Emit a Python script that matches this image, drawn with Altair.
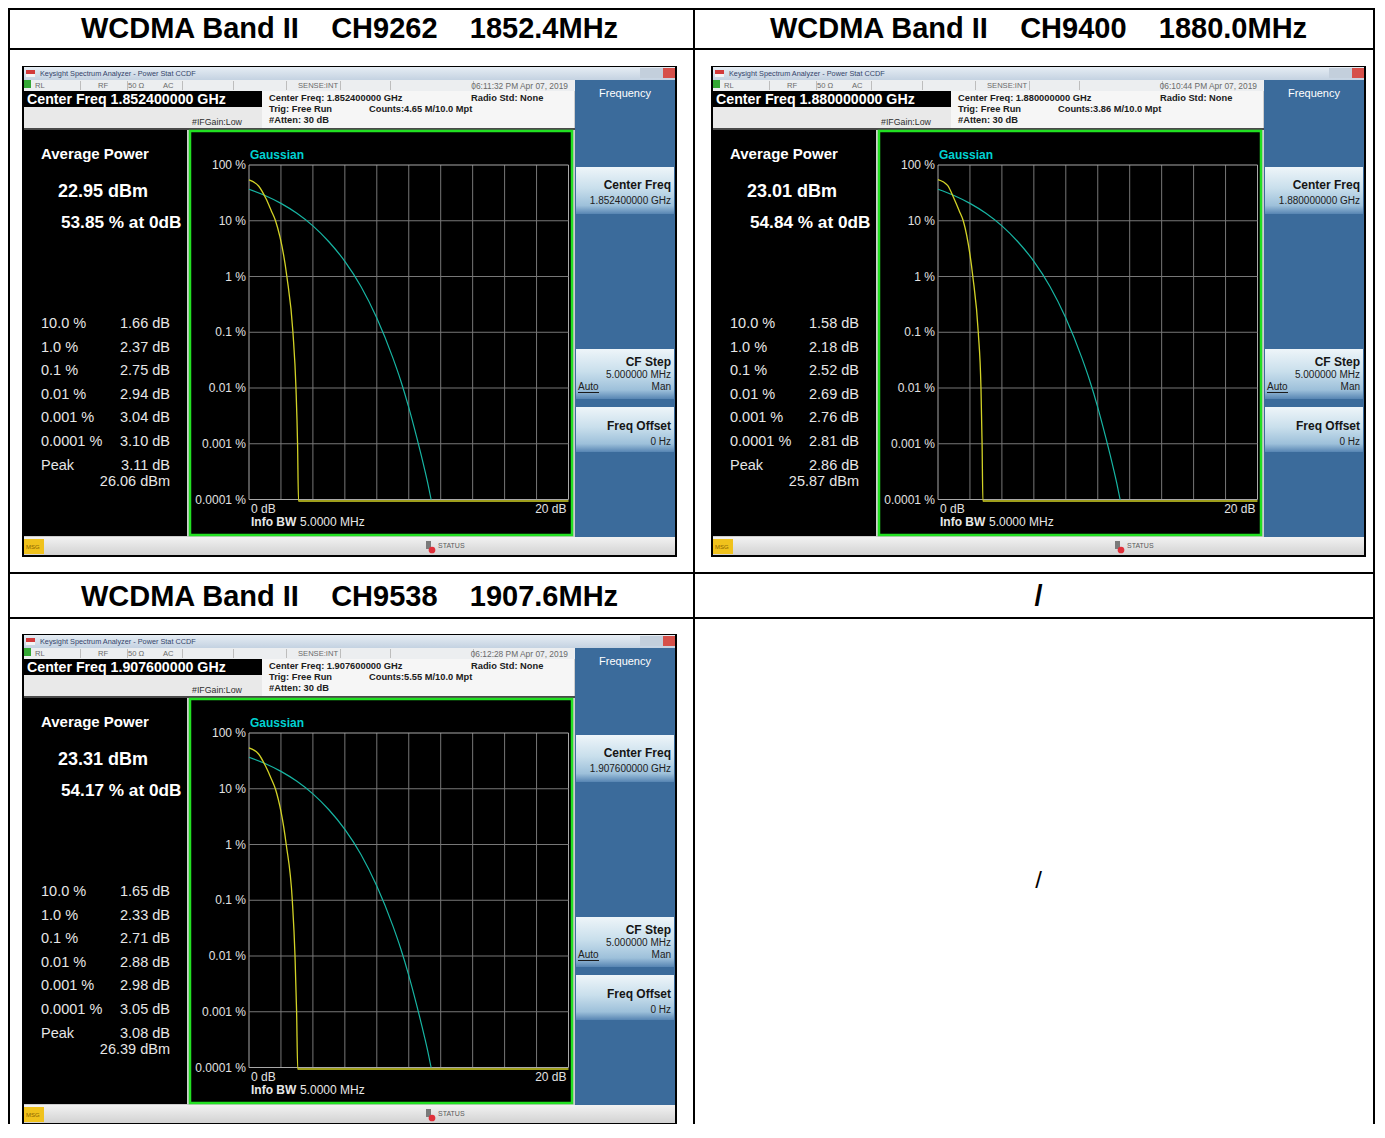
import altair as alt
import pandas as pd

# ---------------------------------------------------------------- data
NB = "\u00a0" * 4
cell_titles = [
    "WCDMA Band II" + NB + "CH9262" + NB + "1852.4MHz",
    "WCDMA Band II" + NB + "CH9400" + NB + "1880.0MHz",
    "WCDMA Band II" + NB + "CH9538" + NB + "1907.6MHz",
    "/",
]
empty_cell_text = "/"

window_title = "Keysight Spectrum Analyzer - Power Stat CCDF"
center_freq_ghz = ["1.852400000", "1.880000000", "1.907600000"]
time_stamps = ["06:11:32 PM Apr 07, 2019", "06:10:44 PM Apr 07, 2019", "06:12:28 PM Apr 07, 2019"]
counts_m = ["4.65", "3.86", "5.55"]
avg_power_dbm = ["22.95", "23.01", "23.31"]
pct_at_0db = [53.85, 54.84, 54.17]

prob_labels = ["10.0 %", "1.0 %", "0.1 %", "0.01 %", "0.001 %", "0.0001 %"]
prob_levels_pct = [10.0, 1.0, 0.1, 0.01, 0.001, 0.0001]
stat_db = [
    [1.66, 2.37, 2.75, 2.94, 3.04, 3.10],
    [1.58, 2.18, 2.52, 2.69, 2.76, 2.81],
    [1.65, 2.33, 2.71, 2.88, 2.98, 3.05],
]
peak_db = [3.11, 2.86, 3.08]
peak_dbm = [26.06, 25.87, 26.39]

# shoulder of the measured (yellow) curve between 0 dB and the 10 % point
shoulder_db = [[0.6, 1.06, 1.4], [0.6, 1.0, 1.33], [0.6, 1.05, 1.4]]
shoulder_pct = [[42.0, 25.0, 15.0], [43.0, 25.0, 15.0], [42.0, 25.0, 15.0]]

# Gaussian reference curve (cyan)
gauss_db = [0, 1, 2, 3, 4, 5, 6, 7, 8, 9, 9.5, 10, 10.5, 11, 11.2, 11.4]
gauss_pct = [36.8, 28.4, 20.5, 13.6, 8.1, 4.2, 1.87, 0.67, 0.18, 0.035, 0.0135,
             0.0045, 0.0013, 0.00034, 0.00019, 0.0001]

floor_pct = 0.000094   # yellow trace floor, drawn just under the 0.0001 % line
x_domain_db = [0, 20]
y_domain_pct = [0.0001, 100]
x_grid_db = [0, 2, 4, 6, 8, 10, 12, 14, 16, 18, 20]
y_grid_pct = [100, 10, 1, 0.1, 0.01, 0.001, 0.0001]
y_grid_labels = ["100 %", "10 %", "1 %", "0.1 %", "0.01 %", "0.001 %", "0.0001 %"]
x_end_labels = ["0 dB", "20 dB"]

status_fields = ["RL", "RF", "50 Ω", "AC", "SENSE:INT"]

# ---------------------------------------------------------------- layout (pixels)
W, H = 1367, 1116
M = 8
FONT = "Liberation Sans"
shots = [(0, 0), (689, 0), (0, 568)]

table, under, g_title, g_button, g_status, over, greenbox, dots, texts = ([] for _ in range(9))


def R(lst, x1, y1, x2, y2, fill="#000000"):
    lst.append(dict(x=x1 - M, x2=x2 - M, y=y1 - M, y2=y2 - M, fill=fill))


def T(x, y, text, size, color, align="left", weight="normal"):
    texts.append(dict(x=x - M, y=y - M, text=text, size=size, color=color, align=align, weight=weight))


def clampx(v):
    return max(0, min(W, v))


for yy in [5, 49, 573, 618]:
    y1 = max(0, yy - 1 - M)
    table.append(dict(x=0, x2=W, y=y1, y2=y1 + 2, fill="#000000"))
for xx in [5, 694, 1383]:
    x1 = clampx(xx - 1 - M)
    x1 = min(x1, W - 2)
    table.append(dict(x=x1, x2=x1 + 2, y=0, y2=H, fill="#000000"))

T(349.5, 28.5, cell_titles[0], 29, "#000000", "center", "bold")
T(1038.5, 28.5, cell_titles[1], 29, "#000000", "center", "bold")
T(349.5, 597, cell_titles[2], 29, "#000000", "center", "bold")
T(1038.5, 597, cell_titles[3], 29, "#000000", "center", "bold")
T(1038.5, 881, empty_cell_text, 24, "#000000", "center", "normal")

status_x = [35, 98, 128, 163, 298]
sep_x = [80, 127, 182, 233, 286, 340, 390, 473]
row_y = [324, 347.5, 371, 395, 418, 441.5]

for i, (dx, dy) in enumerate(shots):
    def S(lst, x1, y1, x2, y2, fill="#000000"):
        R(lst, x1 + dx, y1 + dy, x2 + dx, y2 + dy, fill)

    def ST(x, y, text, size, color, align="left", weight="normal"):
        T(x + dx, y + dy, text, size, color, align, weight)

    S(under, 22, 66, 677, 557, "#000000")
    S(under, 24, 67, 675, 555, "#cdcdcd")
    S(under, 24, 80, 575, 91, "#eceef0")
    S(under, 24, 91, 262, 107, "#000000")
    S(under, 24, 107, 262, 128, "#e9e9e9")
    S(under, 262, 91, 574, 128, "#f6f6f6")
    S(under, 24, 128, 575, 130, "#4a4a4a")
    S(under, 24, 130, 187, 536, "#000000")
    S(under, 575, 80, 675, 537, "#3b6b9b")

    S(g_title, 24, 67, 675, 80)
    S(g_button, 576, 167, 674, 214)
    S(g_button, 576, 349, 674, 399)
    S(g_button, 576, 407, 674, 452)
    S(g_status, 24, 537, 675, 555)

    S(over, 640, 68, 652, 78, "#c3cfdc")
    S(over, 652, 68, 663, 78, "#c3cfdc")
    S(over, 663, 68, 675, 78, "#d6504a")
    S(over, 26, 70, 35, 74, "#d23a3a")
    S(over, 26, 74, 35, 77, "#f4f4f4")
    S(over, 24, 80, 31, 88, "#34a834")
    for sx in sep_x:
        S(over, sx, 81, sx + 1, 90, "#bdbdbd")
    S(over, 24, 539, 44, 554, "#f0c21c")
    S(over, 578, 392, 599, 393, "#1a1a1a")
    S(over, 426, 541, 431, 549, "#7a7a7a")
    S(greenbox, 190, 131, 572, 535)
    dots.append(dict(x=432 + dx - M, y=550 + dy - M))

    ST(40, 73.5, window_title, 7.3, "#34456a")
    for lab, sx in zip(status_fields, status_x):
        ST(sx, 86, lab, 7.6, "#6a6a6a")
    ST(568, 86, time_stamps[i], 8.4, "#6a6a6a", "right")
    ST(27, 99.5, "Center Freq " + center_freq_ghz[i] + " GHz", 14.2, "#ffffff", "left", "bold")
    ST(192, 122, "#IFGain:Low", 8.8, "#303030")
    ST(269, 98, "Center Freq: " + center_freq_ghz[i] + " GHz", 9.3, "#202020", "left", "bold")
    ST(471, 98, "Radio Std: None", 9.3, "#202020", "left", "bold")
    ST(269, 109, "Trig: Free Run", 9.3, "#202020", "left", "bold")
    ST(369, 109, "Counts:" + counts_m[i] + " M/10.0 Mpt", 9.3, "#202020", "left", "bold")
    ST(269, 120, "#Atten: 30 dB", 9.3, "#202020", "left", "bold")

    ST(41, 154, "Average Power", 15, "#ffffff", "left", "bold")
    ST(58, 192, avg_power_dbm[i] + " dBm", 18, "#ffffff", "left", "bold")
    ST(61, 223, f"{pct_at_0db[i]:.2f} % at 0dB", 17.2, "#ffffff", "left", "bold")
    for k in range(6):
        ST(41, row_y[k], prob_labels[k], 14.5, "#e6e6e6")
        ST(170, row_y[k], f"{stat_db[i][k]:.2f} dB", 14.5, "#e6e6e6", "right")
    ST(41, 465.5, "Peak", 14.5, "#e6e6e6")
    ST(170, 465.5, f"{peak_db[i]:.2f} dB", 14.5, "#e6e6e6", "right")
    ST(170, 482, f"{peak_dbm[i]:.2f} dBm", 14.5, "#e6e6e6", "right")

    ST(250, 155, "Gaussian", 12, "#00d2d2", "left", "bold")
    ST(251, 522, "Info BW", 12, "#e8e8e8", "left", "bold")
    ST(300, 522, "5.0000 MHz", 12, "#e8e8e8")

    ST(625, 94, "Frequency", 11, "#ffffff", "center")
    ST(671, 185, "Center Freq", 12, "#151515", "right", "bold")
    ST(671, 201, center_freq_ghz[i] + " GHz", 10, "#202020", "right")
    ST(671, 362, "CF Step", 12, "#151515", "right", "bold")
    ST(671, 374.5, "5.000000 MHz", 10, "#202020", "right")
    ST(578, 387, "Auto", 10, "#202020")
    ST(671, 387, "Man", 10, "#202020", "right")
    ST(671, 426, "Freq Offset", 12, "#151515", "right", "bold")
    ST(671, 442, "0 Hz", 10, "#202020", "right")
    ST(26, 546.5, "MSG", 6, "#8a6400")
    ST(438, 545.5, "STATUS", 7, "#5a5a5a")


XP = alt.X("x:Q", scale=None, axis=None)
YP = alt.Y("y:Q", scale=None, axis=None)


def rect_layer(rows, **mark):
    return alt.Chart(pd.DataFrame(rows)).mark_rect(**mark).encode(x=XP, x2="x2:Q", y=YP, y2="y2:Q")


def fill_rect_layer(rows):
    return alt.Chart(pd.DataFrame(rows)).mark_rect().encode(
        x=XP, x2="x2:Q", y=YP, y2="y2:Q", fill=alt.Fill("fill:N", scale=None))


def grad(stops):
    return alt.LinearGradient(
        gradient="linear",
        stops=[alt.GradientStop(color=c, offset=o) for o, c in stops],
        x1=0, x2=0, y1=0, y2=1)


layers = [
    fill_rect_layer(under),
    rect_layer(g_title, fill=grad([(0, "#e6edf4"), (1, "#c4d2e1")])),
    rect_layer(g_button, fill=grad([(0, "#eef5f9"), (0.45, "#c9dfec"), (0.82, "#9dc0da"), (1, "#5785b3")])),
    rect_layer(g_status, fill=grad([(0, "#f2f2f2"), (1, "#d2d2d2")])),
    fill_rect_layer(over),
    rect_layer(greenbox, fill="#000000", stroke="#22e022", strokeWidth=2.5),
    alt.Chart(pd.DataFrame(dots)).mark_point(shape="circle", filled=True, color="#e0303a", size=45,
                                             opacity=1).encode(x=XP, y=YP),
]

# CCDF plots drawn through their own scales
for i, (dx, dy) in enumerate(shots):
    xs = alt.Scale(domain=x_domain_db, range=[249 + dx - M, 568.5 + dx - M], nice=False, zero=False)
    ys = alt.Scale(type="log", domain=y_domain_pct, range=[499.5 + dy - M, 165 + dy - M], nice=False)
    vgrid = pd.DataFrame({"db": x_grid_db, "top": y_domain_pct[1], "bot": y_domain_pct[0],
                          "c": ["#a8a8a8" if v in x_domain_db else "#777777" for v in x_grid_db]})
    hgrid = pd.DataFrame({"pct": y_grid_pct, "lab": y_grid_labels, "l": x_domain_db[0], "r": x_domain_db[1],
                          "c": ["#a8a8a8" if v in y_domain_pct else "#777777" for v in y_grid_pct]})
    gauss = pd.DataFrame({"db": gauss_db, "pct": gauss_pct})
    meas = pd.DataFrame({"db": [0] + shoulder_db[i] + stat_db[i] + [x_domain_db[1]],
                         "pct": [pct_at_0db[i]] + shoulder_pct[i] + prob_levels_pct[:-1] + [floor_pct, floor_pct]})
    xl = pd.DataFrame({"db": x_domain_db, "lab": x_end_labels})

    X = alt.X("db:Q", scale=xs, axis=None)
    Y = alt.Y("pct:Q", scale=ys, axis=None)
    sub = alt.layer(
        alt.Chart(vgrid).mark_rule(strokeWidth=1).encode(
            x=X, y=alt.Y("top:Q", scale=ys, axis=None), y2="bot:Q", color=alt.Color("c:N", scale=None)),
        alt.Chart(hgrid).mark_rule(strokeWidth=1).encode(
            y=Y, x=alt.X("l:Q", scale=xs, axis=None), x2="r:Q", color=alt.Color("c:N", scale=None)),
        alt.Chart(gauss).mark_line(interpolate="monotone", strokeWidth=1.2, color="#17b5a3").encode(x=X, y=Y),
        alt.Chart(meas).mark_line(interpolate="monotone", strokeWidth=1.3, color="#d2d226").encode(x=X, y=Y),
        alt.Chart(hgrid).mark_text(align="right", baseline="middle", font=FONT, fontSize=12,
                                   color="#e2e2e2").encode(y=Y, x=alt.value(246 + dx - M), text="lab:N"),
        alt.Chart(xl.iloc[[0]]).mark_text(align="left", baseline="middle", font=FONT, fontSize=12, dx=2,
                                          color="#e2e2e2").encode(x=X, y=alt.value(509 + dy - M), text="lab:N"),
        alt.Chart(xl.iloc[[1]]).mark_text(align="right", baseline="middle", font=FONT, fontSize=12, dx=-2,
                                          color="#e2e2e2").encode(x=X, y=alt.value(509 + dy - M), text="lab:N"),
    )
    layers.append(sub)

layers.append(fill_rect_layer(table))

tdf = pd.DataFrame(texts)
for (al, wt), g in tdf.groupby(["align", "weight"]):
    layers.append(
        alt.Chart(g).mark_text(align=al, baseline="middle", font=FONT, fontWeight=wt).encode(
            x=XP, y=YP, text="text:N",
            size=alt.Size("size:Q", scale=None),
            color=alt.Color("color:N", scale=None)))

chart = (
    alt.layer(*layers)
    .resolve_scale(x="independent", y="independent", color="independent", size="independent")
    .properties(width=W, height=H, autosize=alt.AutoSizeParams(type="none"), padding=0, background="white")
    .configure_view(stroke="transparent")
)

chart.save("out.html", embed_options={"renderer": "svg", "actions": False})
